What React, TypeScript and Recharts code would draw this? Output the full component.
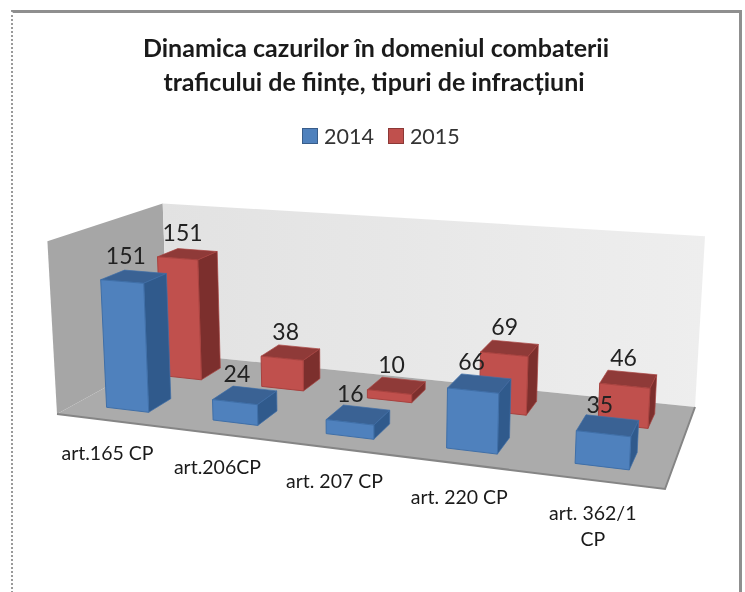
import { BarChart, Bar, XAxis, YAxis, Legend } from "recharts";

const categories = ["art.165 CP", "art.206CP", "art. 207 CP", "art. 220 CP", "art. 362/1 CP"];
const values2014 = [151, 24, 16, 66, 35];
const values2015 = [151, 38, 10, 69, 46];
const titleLines = ["Dinamica cazurilor în domeniul combaterii", "traficului de ființe, tipuri de infracțiuni"];

const data = categories.map((name, i) => ({ name, y2014: values2014[i], y2015: values2015[i] }));

const W = 745;
const H = 592;
const FONT = "Lato, Carlito, sans-serif";

// perspective of the 3d box: u along categories, v depth, h height (all 0..1)
const project = (u: number, v: number, h: number): [number, number] => {
    const w = -0.14928 * u + 0.1622 * v + 1 - 0.03 * h;
    const x = 508.73 * u + 138.25 * v + 57 - 11 * h;
    const y = 2 * u - 3.74 * v + 414 - 180 * h;
    return [x / w, y / w];
};

const pts = (list: [number, number, number][]) =>
    list.map((p) => project(p[0], p[1], p[2]).map((n) => n.toFixed(1)).join(",")).join(" ");

const Walls = () => (
    <g>
        <defs>
            <linearGradient id="backWall" x1="0" y1="0" x2="1" y2="0">
                <stop offset="0" stopColor="#e2e2e2" />
                <stop offset="1" stopColor="#eeeeee" />
            </linearGradient>
        </defs>
        <polygon points={pts([[0, 0, 0], [0, 1, 0], [0, 1, 1], [0, 0, 1]])} fill="#a6a6a6" />
        <polygon points={pts([[0, 1, 0], [1, 1, 0], [1, 1, 1], [0, 1, 1]])} fill="url(#backWall)" />
        <polygon points={pts([[0, 0, 0], [1, 0, 0], [1, 1, 0], [0, 1, 0]])} fill="#ababab" />
        <polyline points={pts([[0, 0, 0], [1, 0, 0], [1, 1, 0]])} fill="none" stroke="#858585" strokeWidth={2} />
    </g>
);

const Title = () => (
    <text textAnchor="middle" fontFamily={FONT} fontWeight={700} fontSize={25} fill="#1a1a1a">
        <tspan x={376} y={57}>{titleLines[0]}</tspan>
        <tspan x={374} y={91}>{titleLines[1]}</tspan>
    </text>
);

const Box3D = (props: any) => {
    const { x, width, height, value, background, v0, v1, labelDx, front, top, side, edge } = props;
    const u0 = x / W;
    const u1 = (x + width) / W;
    const h = height / background.height;
    const [lx, ly] = project((u0 + u1) / 2, (v0 + v1) / 2, h);
    return (
        <g>
            <polygon points={pts([[u0, v0, h], [u1, v0, h], [u1, v1, h], [u0, v1, h]])} fill={top} stroke={edge} strokeWidth={0.7} />
            <polygon points={pts([[u1, v0, 0], [u1, v1, 0], [u1, v1, h], [u1, v0, h]])} fill={side} stroke={edge} strokeWidth={0.7} />
            <polygon points={pts([[u0, v0, 0], [u1, v0, 0], [u1, v0, h], [u0, v0, h]])} fill={front} stroke={edge} strokeWidth={1} />
            <text x={lx + labelDx} y={ly - 22} textAnchor="middle" dominantBaseline="central" fontFamily={FONT} fontSize={23} fill="#222">
                {value}
            </text>
        </g>
    );
};

const categoryTick = (props: any) => {
    const { x, payload } = props;
    const [px, py] = project(x / W, 0, 0);
    const words: string[] = String(payload.value).split(" ");
    const lines = payload.value.length > 11 ? [words.slice(0, -1).join(" "), words[words.length - 1]] : [payload.value];
    return (
        <text textAnchor="middle" fontFamily={FONT} fontSize={19.5} fill="#1a1a1a">
            {lines.map((t: string, i: number) => (
                <tspan key={t} x={px - 2} y={py + 40 + i * 26}>{t}</tspan>
            ))}
        </text>
    );
};

const LegendRow = ({ payload }: any) => (
    <div style={{ display: "flex", fontFamily: FONT, fontSize: 21.5, color: "#333", lineHeight: "26px" }}>
        {[...payload].sort((a: any, b: any) => String(a.value).localeCompare(String(b.value))).map((e: any) => (
            <div key={e.value} style={{ display: "flex", alignItems: "center", marginRight: 14 }}>
                <span style={{ width: 14, height: 14, background: e.color, border: "1px solid", borderColor: e.value === "2014" ? "#385d8a" : "#8c3836", marginRight: 6 }} />
                {e.value}
            </div>
        ))}
    </div>
);

const App = () => (
    <div style={{ position: "absolute", left: 0, top: 0, width: W, height: H, background: "#fff", overflow: "hidden", filter: "blur(0.5px)" }}>
        <div style={{ position: "absolute", left: 11, top: 10, width: 726, height: 600, borderTop: "3px solid #8f8f8f", borderLeft: "2px dotted #9a9a9a", borderRight: "3px solid #8f8f8f" }} />
        <BarChart width={W} height={H} data={data} margin={{ top: 0, right: 0, bottom: 0, left: 0 }} barCategoryGap="30%">
            <Walls />
            <Title />
            <XAxis xAxisId="a" dataKey="name" height={1} axisLine={false} tickLine={false} interval={0} tick={categoryTick} />
            <XAxis xAxisId="b" dataKey="name" hide />
            <YAxis domain={[0, 200]} hide />
            <Legend
                content={<LegendRow />}
                wrapperStyle={{ position: "absolute", left: 302, top: 123, width: "auto", bottom: "auto" }}
            />
            <Bar
                xAxisId="b"
                dataKey="y2015"
                name="2015"
                fill="#c0504d"
                isAnimationActive={false}
                shape={(p: any) => <Box3D {...p} v0={0.65} v1={0.85} labelDx={-5} front="#c0504d" top="#8f3a38" side="#7c2f2d" edge="#a8423f" />}
            />
            <Bar
                xAxisId="a"
                dataKey="y2014"
                name="2014"
                fill="#4f81bd"
                isAnimationActive={false}
                shape={(p: any) => <Box3D {...p} v0={0.15} v1={0.35} labelDx={-8} front="#4f81bd" top="#3a6294" side="#305a8c" edge="#3f6fa8" />}
            />
        </BarChart>
    </div>
);

export default App;
